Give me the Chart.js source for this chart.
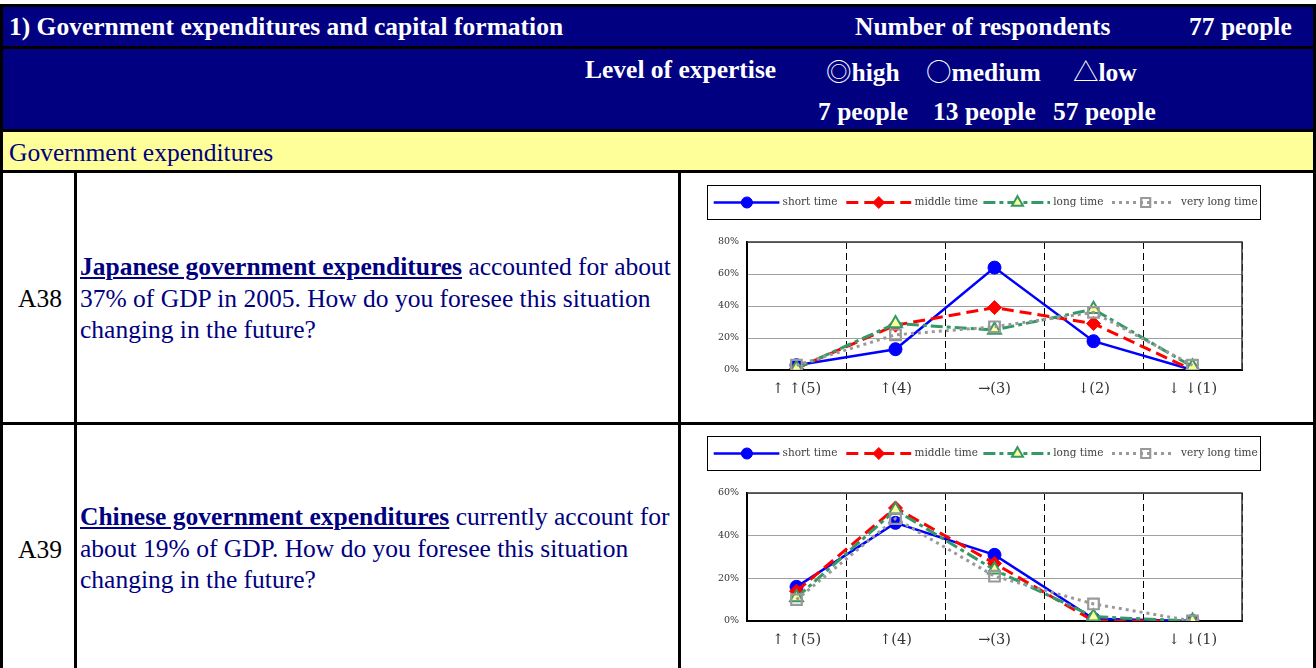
<!DOCTYPE html>
<html><head><meta charset="utf-8">
<script src="https://cdn.jsdelivr.net/npm/chart.js@4.4.0/dist/chart.umd.min.js"></script>
<style>
html,body{margin:0;padding:0;overflow:hidden;width:1316px;height:668px;background:#fff;}
.abs{position:absolute;}
#frame{left:0;top:4px;width:1316px;height:700px;background:#000;}
.navy{background:#000080;}
.yellow{background:#ffff99;}
.white{background:#fff;}
.t{position:absolute;white-space:nowrap;font-family:'Liberation Serif','Times New Roman',serif;font-size:25.5px;line-height:29px;}
.hb{color:#fff;font-weight:bold;}
.cjk{font-family:'Noto Sans CJK JP',sans-serif;font-weight:normal;}
.q{color:#000080;line-height:31.7px;}
.q b{text-decoration:underline;}
.num{color:#000;}
canvas{position:absolute;}
</style></head>
<body>
<div id="frame" class="abs"></div>
<div class="abs navy" style="left:3px;top:7px;width:1310px;height:39px;"></div>
<div class="abs navy" style="left:3px;top:49px;width:1310px;height:80px;"></div>
<div class="abs yellow" style="left:3px;top:132px;width:1310px;height:38px;"></div>
<div class="abs white" style="left:3px;top:173px;width:71px;height:249px;"></div>
<div class="abs white" style="left:77px;top:173px;width:601px;height:249px;"></div>
<div class="abs white" style="left:681px;top:173px;width:632px;height:249px;"></div>
<div class="abs white" style="left:3px;top:425px;width:71px;height:300px;"></div>
<div class="abs white" style="left:77px;top:425px;width:601px;height:300px;"></div>
<div class="abs white" style="left:681px;top:425px;width:632px;height:300px;"></div>

<div class="t hb" style="left:9px;top:12px;">1) Government expenditures and capital formation</div>
<div class="t hb" style="left:855px;top:12px;">Number of respondents</div>
<div class="t hb" style="left:1189px;top:12px;">77 people</div>
<div class="t hb" style="left:585px;top:55px;">Level of expertise</div>
<div class="t hb" style="left:826px;top:55px;"><span class="cjk">◎</span>high</div>
<div class="t hb" style="left:926px;top:55px;"><span class="cjk">○</span>medium</div>
<div class="t hb" style="left:1073px;top:55px;"><span class="cjk">△</span>low</div>
<div class="t hb" style="left:818px;top:97px;">7 people</div>
<div class="t hb" style="left:933px;top:97px;">13 people</div>
<div class="t hb" style="left:1053px;top:97px;">57 people</div>
<div class="t" style="left:9px;top:138px;color:#000080;">Government expenditures</div>

<div class="t num" style="left:18px;top:284px;">A38</div>
<div class="t q" style="left:80px;top:251px;"><b>Japanese government expenditures</b> accounted for about<br>37% of GDP in 2005. How do you foresee this situation<br>changing in the future?</div>
<div class="t num" style="left:18px;top:535px;">A39</div>
<div class="t q" style="left:80px;top:501px;"><b>Chinese government expenditures</b> currently account for<br>about 19% of GDP. How do you foresee this situation<br>changing in the future?</div>

<canvas id="c38" width="632" height="248" style="left:681px;top:173px;width:632px;height:248px;"></canvas>
<canvas id="c39" width="632" height="248" style="left:681px;top:424px;width:632px;height:248px;"></canvas>

<script>
// ---- data ----
const categories = ['↑ ↑(5)', '↑(4)', '→(3)', '↓(2)', '↓ ↓(1)'];
const seriesNames = ['short time', 'middle time', 'long time', 'very long time'];

const a38Short    = [3, 13, 64, 18, 0];
const a38Middle   = [1, 28, 39, 29, 0];
const a38Long     = [1, 29, 25, 38, 2];
const a38VeryLong = [3, 22, 27, 36, 3];
const a38YTicks   = [0, 20, 40, 60, 80];

const a39Short    = [16, 46, 31, 1, 0];
const a39Middle   = [14, 53, 27, 0, 0];
const a39Long     = [11, 52, 24, 2, 0];
const a39VeryLong = [10, 48, 21, 8, 0];
const a39YTicks   = [0, 20, 40, 60];

// ---- styles ----
const seriesStyles = [
  {borderColor:'#0000ff', borderWidth:2.5, borderDash:[], pointStyle:'circle', pointRadius:6.5,
   pointBackgroundColor:'#0000ff', pointBorderColor:'#0000ff', pointBorderWidth:1},
  {borderColor:'#ff0000', borderWidth:3, borderDash:[12,6], pointStyle:'rectRot', pointRadius:7,
   pointBackgroundColor:'#ff0000', pointBorderColor:'#ff0000', pointBorderWidth:1},
  {borderColor:'#339966', borderWidth:3, borderDash:[12,4,4,4], pointStyle:'triangle', pointRadius:7.5,
   pointBackgroundColor:'#ffff99', pointBorderColor:'#339966', pointBorderWidth:2},
  {borderColor:'#999999', borderWidth:3, borderDash:[3,4], pointStyle:'rect', pointRadius:7.5,
   pointBackgroundColor:'rgba(255,255,255,0)', pointBorderColor:'#999999', pointBorderWidth:2.2}
];

function drawMarker(ctx, ds, x, y, scale) {
  ctx.save();
  ctx.fillStyle = ds.pointBackgroundColor;
  ctx.strokeStyle = ds.pointBorderColor;
  ctx.lineWidth = ds.pointBorderWidth;
  const opts = {pointStyle: ds.pointStyle, radius: ds.pointRadius * scale, rotation: 0, borderWidth: ds.pointBorderWidth};
  if (Chart.helpers && Chart.helpers.drawPoint) {
    Chart.helpers.drawPoint(ctx, opts, x, y);
  } else {
    ctx.beginPath(); ctx.arc(x, y, opts.radius, 0, Math.PI*2); ctx.fill(); ctx.stroke();
  }
  ctx.restore();
}

const plotFrame = {
  id: 'plotFrame',
  beforeDatasetsDraw(chart) {
    const {ctx, chartArea: a} = chart;
    ctx.save();
    ctx.strokeStyle = '#333';
    ctx.lineWidth = 1.5;
    ctx.beginPath();
    ctx.moveTo(a.left, a.top); ctx.lineTo(a.right, a.top); ctx.lineTo(a.right, a.bottom);
    ctx.stroke();
    ctx.restore();
  }
};

const excelLegend = {
  id: 'excelLegend',
  afterDraw(chart) {
    const ctx = chart.ctx;
    const lineX = [[32.7, 98.4], [165.3, 230.2], [302.4, 369], [431, 490]];
    const markX = [65.9, 197.8, 336.5, 464.7];
    const textX = [101.6, 233.5, 372.2, 500];
    const cy = 29.5;
    ctx.save();
    ctx.strokeStyle = '#000'; ctx.lineWidth = 1;
    ctx.strokeRect(26.5, 12.5, 553, 34);
    chart.data.datasets.forEach((ds, i) => {
      ctx.save();
      ctx.beginPath();
      ctx.setLineDash(ds.borderDash || []);
      ctx.strokeStyle = ds.borderColor; ctx.lineWidth = ds.borderWidth;
      ctx.moveTo(lineX[i][0], cy); ctx.lineTo(lineX[i][1], cy); ctx.stroke();
      ctx.restore();
      drawMarker(ctx, ds, markX[i], cy, 0.85);
      ctx.fillStyle = '#404040';
      ctx.font = '10.5px "DejaVu Serif"';
      ctx.textBaseline = 'middle';
      ctx.textAlign = 'left';
      ctx.fillText(ds.label, textX[i], cy);
    });
    ctx.restore();
  }
};

function makeChart(id, values, yTicks) {
  const datasets = values.map((vals, i) => Object.assign({
    label: seriesNames[i], data: vals, fill: false, tension: 0, order: 3 - i
  }, seriesStyles[i]));
  return new Chart(document.getElementById(id), {
    type: 'line',
    data: {labels: categories, datasets},
    options: {
      responsive: false, animation: false, events: [],
      layout: {padding: {top: 69, right: 71, bottom: 0, left: 0}},
      plugins: {legend: {display: false}, tooltip: {enabled: false}},
      scales: {
        x: {
          offset: true,
          grid: {offset: true, color: '#000', lineWidth: 1, drawTicks: false},
          border: {display: true, color: '#000', width: 2, dash: [7, 4]},
          ticks: {color: '#333', font: {family: 'DejaVu Serif', size: 14.5}, padding: 11, maxRotation: 0, autoSkip: false},
          afterFit(s) { s.height = 51; }
        },
        y: {
          min: yTicks[0], max: yTicks[yTicks.length - 1],
          afterBuildTicks(s) { s.ticks = yTicks.map(v => ({value: v})); },
          ticks: {callback: v => v + '%', color: '#333', font: {family: 'DejaVu Serif', size: 9.5}, padding: 8},
          grid: {color: '#a0a0a0', lineWidth: 1, drawTicks: false},
          border: {display: true, color: '#000', width: 2},
          afterFit(s) { s.width = 66; }
        }
      }
    },
    plugins: [plotFrame, excelLegend]
  });
}

makeChart('c38', [a38Short, a38Middle, a38Long, a38VeryLong], a38YTicks);
makeChart('c39', [a39Short, a39Middle, a39Long, a39VeryLong], a39YTicks);
</script>
</body></html>
